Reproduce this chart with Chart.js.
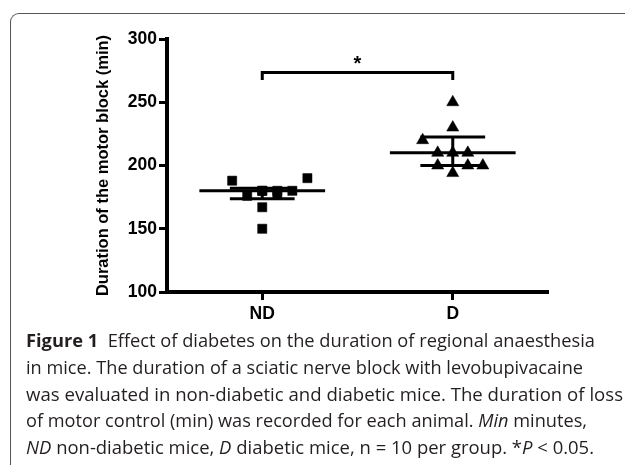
<!DOCTYPE html>
<html>
<head>
<meta charset="utf-8">
<script src="https://cdn.jsdelivr.net/npm/chart.js@4"></script>
<style>
  html, body { margin: 0; padding: 0; background: #fff; }
  body { width: 625px; height: 465px; position: relative; overflow: hidden; }
  #frame { position: absolute; left: 10px; top: 13px; width: 660px; height: 500px;
           border-top: 1px solid #555; border-left: 1px solid #555; border-top-left-radius: 9px; }
  #wrap { position: absolute; left: 0; top: 0; width: 625px; height: 330px; }
  .ln { position: absolute; left: 26px; white-space: nowrap; transform-origin: 0 0;
        font-family: "Open Sans", sans-serif; font-size: 18px; line-height: 27px; color: #231f20; }
  .ln b { font-weight: 700; }
</style>
</head>
<body>
<div id="frame"></div>
<div id="wrap"><canvas id="chart"></canvas></div>
<div class="ln" style="top:327px"><b>Figure 1</b>&nbsp; Effect of diabetes on the duration of regional anaesthesia</div>
<div class="ln" style="top:354px">in mice. The duration of a sciatic nerve block with levobupivacaine</div>
<div class="ln" style="top:381px">was evaluated in non-diabetic and diabetic mice. The duration of loss</div>
<div class="ln" style="top:407px">of motor control (min) was recorded for each animal. <i>Min</i> minutes,</div>
<div class="ln" style="top:434px"><i>ND</i> non-diabetic mice, <i>D</i> diabetic mice, n = 10 per group. *<i>P</i> &lt; 0.05.</div>
<script>
const groups = ['ND', 'D'];
// duration of motor block (min), one value per animal
const ndValues = [188, 176, 180, 180, 180, 177, 180, 190, 167, 150];
const dValues = [250, 230, 220, 210, 210, 210, 200, 200, 200, 194];
// horizontal scatter slot of each point (column scatter spreading)
const ndSlots = [-2, -1, 0, 0, 1, 1, 2, 3, 0, 0];
const dSlots = [0, 0, -2, -1, 0, 1, -1, 1, 2, 0];
const yTicks = [100, 150, 200, 250, 300];
const sigBracket = { from: 1, to: 2, y: 273.5, drop: 6, starY: 275.5, label: '*' };

const slotStep = 0.079;
const medianHalf = 0.33;
const capHalf = 0.17;

// quartiles the way GraphPad computes them
function quantile(arr, p) {
  const s = [...arr].sort((a, b) => a - b);
  const pos = (s.length + 1) * p - 1;
  const lo = Math.floor(pos), frac = pos - lo;
  if (lo + 1 >= s.length) return s[s.length - 1];
  return s[lo] + (s[lo + 1] - s[lo]) * frac;
}

const boldFont = size => ({ family: '"Liberation Sans", Arial, sans-serif', weight: 'bold', size: size });

const summaryPlugin = {
  id: 'summary',
  afterDatasetsDraw(chart) {
    const { ctx, scales: { x, y } } = chart;
    const seg = (x1, y1, x2, y2) => {
      ctx.beginPath();
      ctx.moveTo(x.getPixelForValue(x1), y.getPixelForValue(y1));
      ctx.lineTo(x.getPixelForValue(x2), y.getPixelForValue(y2));
      ctx.stroke();
    };
    ctx.save();
    ctx.strokeStyle = '#000';
    ctx.lineWidth = 3;
    [ndValues, dValues].forEach((vals, i) => {
      const c = i + 1;
      const med = quantile(vals, 0.5), q1 = quantile(vals, 0.25), q3 = quantile(vals, 0.75);
      seg(c - medianHalf, med, c + medianHalf, med);
      seg(c - capHalf, q1, c + capHalf, q1);
      seg(c - capHalf, q3, c + capHalf, q3);
      seg(c, q1, c, q3);
    });
    // significance bracket
    ctx.beginPath();
    ctx.moveTo(x.getPixelForValue(sigBracket.from), y.getPixelForValue(sigBracket.y - sigBracket.drop));
    ctx.lineTo(x.getPixelForValue(sigBracket.from), y.getPixelForValue(sigBracket.y));
    ctx.lineTo(x.getPixelForValue(sigBracket.to), y.getPixelForValue(sigBracket.y));
    ctx.lineTo(x.getPixelForValue(sigBracket.to), y.getPixelForValue(sigBracket.y - sigBracket.drop));
    ctx.stroke();
    ctx.fillStyle = '#000';
    ctx.font = 'bold 20px "Liberation Sans", Arial, sans-serif';
    ctx.textAlign = 'center';
    ctx.textBaseline = 'alphabetic';
    ctx.fillText(sigBracket.label, x.getPixelForValue((sigBracket.from + sigBracket.to) / 2), y.getPixelForValue(sigBracket.starY));
    ctx.restore();
  }
};

const axisGrid = { display: true, drawOnChartArea: false, drawTicks: true, tickLength: 8, tickWidth: 3, tickColor: '#000', color: '#000' };
const axisBorder = { display: true, width: 4, color: '#000' };

new Chart(document.getElementById('chart'), {
  type: 'scatter',
  data: {
    datasets: [
      {
        label: groups[0],
        data: ndValues.map((v, i) => ({ x: 1 + ndSlots[i] * slotStep, y: v })),
        pointStyle: 'rect',
        radius: 6.5,
        backgroundColor: '#000',
        borderColor: '#000',
        borderWidth: 0.5
      },
      {
        label: groups[1],
        data: dValues.map((v, i) => ({ x: 2 + dSlots[i] * slotStep, y: v })),
        pointStyle: 'triangle',
        radius: 7,
        backgroundColor: '#000',
        borderColor: '#000',
        borderWidth: 0.5
      }
    ]
  },
  options: {
    responsive: true,
    maintainAspectRatio: false,
    animation: false,
    events: [],
    layout: { padding: { left: 94, top: 39, right: 77, bottom: 0 } },
    plugins: { legend: { display: false }, tooltip: { enabled: false } },
    scales: {
      x: {
        type: 'linear',
        min: 0.5,
        max: 2.5,
        afterBuildTicks: s => { s.ticks = groups.map((g, i) => ({ value: i + 1 })); },
        afterFit: s => { s.height = 38; },
        grid: axisGrid,
        border: axisBorder,
        ticks: { callback: v => groups[v - 1], font: boldFont(17.5), color: '#000', padding: 4, autoSkip: false, maxRotation: 0 }
      },
      y: {
        min: 100,
        max: 300,
        afterBuildTicks: s => { s.ticks = yTicks.map(v => ({ value: v })); },
        afterFit: s => { s.width = 73; },
        grid: axisGrid,
        border: axisBorder,
        ticks: { font: boldFont(17.5), color: '#000', padding: 2 },
        title: { display: true, text: 'Duration of the motor block (min)', font: boldFont(16.5), color: '#000', padding: 0 }
      }
    }
  },
  plugins: [summaryPlugin]
});

const lineWidths = [569, 557, 597, 561, 568];
function fitCaption() {
  document.querySelectorAll('.ln').forEach((el, i) => {
    el.style.transform = 'none';
    const w = el.getBoundingClientRect().width;
    el.style.transform = 'scaleX(' + (lineWidths[i] / w) + ')';
  });
}
fitCaption();
if (document.fonts) document.fonts.ready.then(fitCaption);
</script>
</body>
</html>
